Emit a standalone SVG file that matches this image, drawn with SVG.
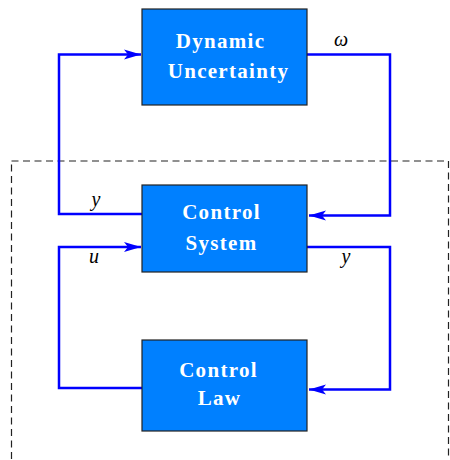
<svg xmlns="http://www.w3.org/2000/svg" width="450" height="460" viewBox="0 0 450 460">
<style>
.box{fill:#0080ff;stroke:#222;stroke-width:1.2}
.bt{fill:#fff;font-family:"Liberation Serif",serif;font-weight:bold;font-size:21px;letter-spacing:1.3px;text-anchor:middle}
.wire{fill:none;stroke:#0000ff;stroke-width:2.5}
.lab{fill:#000;font-family:"Liberation Serif",serif;font-style:italic;font-size:20px;text-anchor:middle}
</style>
<defs>
<marker id="ah" markerUnits="userSpaceOnUse" markerWidth="20" markerHeight="12" refX="17" refY="6" orient="auto">
<path d="M0,1 L17,6 L0,11 L4,6 Z" fill="#0000ff"/>
</marker>
</defs>
<rect x="11.5" y="161" width="437" height="310" fill="none" stroke="#222" stroke-width="1.2" stroke-dasharray="7,4.5"/>
<g id="connectors">
<path class="wire" d="M307,54.5 H390 V215.5 H309" marker-end="url(#ah)"/>
<path class="wire" d="M142,214 H59 V54.5 H141" marker-end="url(#ah)"/>
<path class="wire" d="M142,388 H59 V247 H141" marker-end="url(#ah)"/>
<path class="wire" d="M307,247 H390 V389.5 H309" marker-end="url(#ah)"/>
</g>
<g id="dynamic-uncertainty">
<rect class="box" x="142" y="9" width="165" height="96"/>
<text class="bt" x="220.5" y="48">Dynamic</text>
<text class="bt" x="228.5" y="78">Uncertainty</text>
</g>
<g id="control-system">
<rect class="box" x="142" y="185" width="165" height="87"/>
<text class="bt" x="221.5" y="219">Control</text>
<text class="bt" x="221.5" y="250">System</text>
</g>
<g id="control-law">
<rect class="box" x="142" y="340" width="165" height="91"/>
<text class="bt" x="218.5" y="377">Control</text>
<text class="bt" x="219.5" y="405">Law</text>
</g>
<g id="labels">
<text class="lab" x="341" y="46">ω</text>
<text class="lab" x="96" y="206">y</text>
<text class="lab" x="94" y="263">u</text>
<text class="lab" x="346" y="263">y</text>
</g>
</svg>
